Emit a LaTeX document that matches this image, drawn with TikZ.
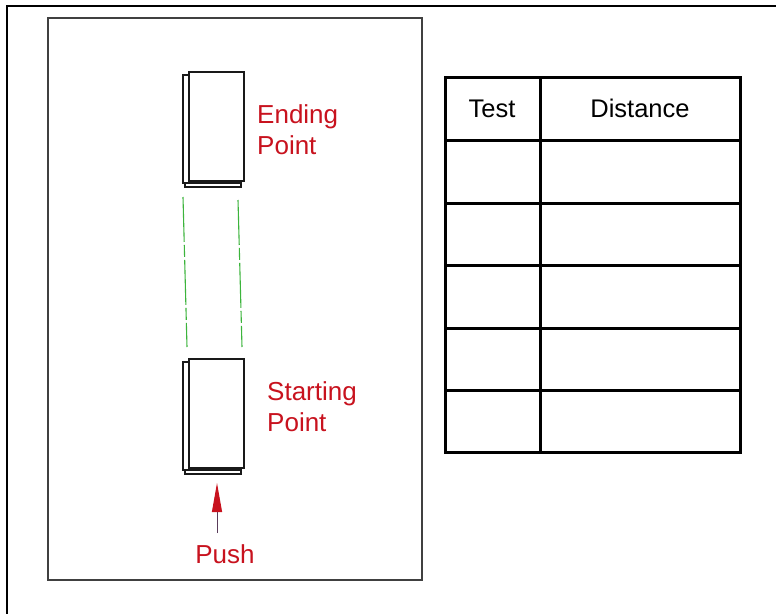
\documentclass[tikz,border=0pt]{standalone}
\usepackage{fontspec}
\setmainfont{Liberation Sans}
\usetikzlibrary{arrows.meta}
\definecolor{lblred}{RGB}{200,18,30}
\definecolor{guidegreen}{RGB}{60,180,60}
\definecolor{shaftcol}{RGB}{90,60,90}
\begin{document}
\begin{tikzpicture}[x=1pt,y=-1pt,
  lbl/.style={font=\fontsize{26}{30}\selectfont, text=lblred, inner sep=0pt, anchor=base west},
  hdr/.style={font=\fontsize{25.5}{30}\selectfont, inner sep=0pt, anchor=base},
  book/.style={draw=black!90, line width=1.6pt, fill=white, inner sep=0pt, anchor=north west},
  guide/.style={draw=guidegreen, line width=1.1pt, dash pattern=on 45pt off 3pt on 12pt off 3pt},
  tbl/.style={line width=3pt}]
\useasboundingbox (0,0) rectangle (776,613);
\fill[white] (0,0) rectangle (776,613);
% outer frame (top and left visible)
\draw[line width=2.5pt] (7,614) -- (7,6) -- (777,6);
% inner panel
\node[draw=black!75, line width=1.6pt, minimum width=374pt, minimum height=562pt, anchor=north west, inner sep=0pt] (panel) at (47,17) {};
% ending book
\node[book, minimum width=56pt, minimum height=4pt] (endstrip) at (184,182) {};
\node[book, minimum width=56pt, minimum height=108pt] (endback) at (182,74) {};
\node[book, minimum width=55pt, minimum height=109pt] (endbook) at (188,71) {};
% starting book
\node[book, minimum width=56pt, minimum height=4pt] (startstrip) at (184,469) {};
\node[book, minimum width=56pt, minimum height=108pt] (startback) at (182,361) {};
\node[book, minimum width=55pt, minimum height=109pt] (startbook) at (188,358) {};
% guide lines
\coordinate (gl1) at (183,197); \coordinate (gl2) at (187,347);
\coordinate (gr1) at (238,200); \coordinate (gr2) at (242,347);
\draw[guide] (gl1) -- (gl2);
\draw[guide] (gr1) -- (gr2);
% labels
\node[lbl] (end1) at (257,123) {Ending};
\node[lbl] (end2) at (257,154) {Point};
\node[lbl] (start1) at (267,400) {Starting};
\node[lbl] (start2) at (267,431) {Point};
\node[lbl, anchor=base] (push) at (225,563) {Push};
% push arrow
\coordinate (pushtail) at (217,533);
\coordinate (pushtip) at (217,483);
\draw[draw=shaftcol, line width=1pt, -{Triangle[length=29pt,width=10pt,color=lblred,fill=lblred]}] (pushtail) -- (pushtip);
% table
\draw[tbl] (445,77) rectangle (740,452);
\draw[tbl] (540,77) -- (540,452);
\foreach \yy in {140,203,265,328,390} \draw[tbl] (445,\yy) -- (740,\yy);
\node[hdr] (test) at (492,117) {Test};
\node[hdr] (dist) at (640,117) {Distance};
\end{tikzpicture}
\end{document}
